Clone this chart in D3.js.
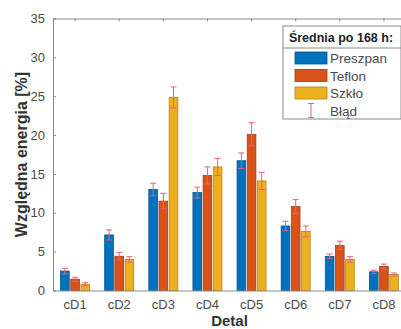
<!DOCTYPE html>
<html>
<head>
<meta charset="utf-8">
<script src="https://cdn.jsdelivr.net/npm/d3@7"></script>
<style>
  body { margin: 0; background: #fff; }
  svg { display: block; font-family: "Liberation Sans", Arial, sans-serif; }
</style>
</head>
<body>
<svg id="chart" width="401" height="329"></svg>
<script>
var categories = ["cD1", "cD2", "cD3", "cD4", "cD5", "cD6", "cD7", "cD8"];
var seriesNames = ["Preszpan", "Teflon", "Szkło"];
var preszpan = [2.5, 7.15, 13.0, 12.6, 16.7, 8.3, 4.4, 2.4];
var teflon = [1.45, 4.4, 11.5, 14.8, 20.1, 10.8, 5.8, 3.1];
var szklo = [0.8, 4.0, 24.85, 15.9, 14.1, 7.6, 4.0, 2.05];
var errPreszpan = [0.35, 0.65, 0.8, 0.7, 1.0, 0.6, 0.3, 0.2];
var errTeflon = [0.25, 0.5, 1.0, 1.1, 1.5, 0.9, 0.55, 0.3];
var errSzklo = [0.2, 0.35, 1.35, 1.1, 1.1, 0.7, 0.35, 0.2];
var yTicks = [0, 5, 10, 15, 20, 25, 30, 35];
var colors = ["#0072BD", "#D95319", "#EDB120"];
var errColor = "#e8607a";

var values = [preszpan, teflon, szklo];
var errors = [errPreszpan, errTeflon, errSzklo];

var svg = d3.select("#chart"),
    margin = { top: 18.5, left: 53 },
    width = 353,
    height = 272;

var x0 = d3.scaleBand().domain(categories).range([0, width]).padding(0);
var groupW = 29;
var x1 = d3.scaleBand().domain(d3.range(3)).range([0, groupW]).paddingInner(0.15);
var y = d3.scaleLinear().domain([0, 35]).range([height, 0]);

var g = svg.append("g")
    .attr("transform", "translate(" + margin.left + "," + margin.top + ")");

var axisColor = "#8a8a8a";
var textColor = "#4a4a4a";

// bars
var rows = [];
categories.forEach(function (c, i) {
    for (var s = 0; s < 3; s++) {
        rows.push({ cat: c, s: s, v: values[s][i], e: errors[s][i] });
    }
});

function bx(d) {
    return x0(d.cat) + (x0.bandwidth() - groupW) / 2 + x1(d.s);
}

g.selectAll(".bar")
    .data(rows)
    .enter().append("rect")
    .attr("class", "bar")
    .attr("x", bx)
    .attr("y", function (d) { return y(d.v); })
    .attr("width", x1.bandwidth())
    .attr("height", function (d) { return height - y(d.v); })
    .attr("fill", function (d) { return colors[d.s]; })
    .attr("stroke", function (d) { return d3.color(colors[d.s]).darker(0.8); })
    .attr("stroke-width", 0.8);

// error bars
var eb = g.selectAll(".err")
    .data(rows)
    .enter().append("g")
    .attr("class", "err")
    .attr("stroke", errColor)
    .attr("stroke-width", 1);

eb.append("line")
    .attr("x1", function (d) { return bx(d) + x1.bandwidth() / 2; })
    .attr("x2", function (d) { return bx(d) + x1.bandwidth() / 2; })
    .attr("y1", function (d) { return y(d.v - d.e); })
    .attr("y2", function (d) { return y(d.v + d.e); });

[1, -1].forEach(function (sign) {
    eb.append("line")
        .attr("x1", function (d) { return bx(d) + x1.bandwidth() / 2 - 3; })
        .attr("x2", function (d) { return bx(d) + x1.bandwidth() / 2 + 3; })
        .attr("y1", function (d) { return y(d.v + sign * d.e); })
        .attr("y2", function (d) { return y(d.v + sign * d.e); });
});

// axes
var yAxis = g.append("g")
    .call(d3.axisLeft(y).tickValues(yTicks).tickSize(-3).tickPadding(8));
var xAxis = g.append("g")
    .attr("transform", "translate(0," + height + ")")
    .call(d3.axisBottom(x0).tickSize(-3).tickPadding(9));
var xTop = g.append("g")
    .call(d3.axisTop(x0).tickSize(-3).tickFormat(""));

[yAxis, xAxis, xTop].forEach(function (a) {
    a.select(".domain").attr("stroke", axisColor);
    a.selectAll(".tick line").attr("stroke", axisColor);
    a.selectAll(".tick text")
        .attr("fill", textColor)
        .style("font-size", "13px");
});
xAxis.selectAll(".tick line").attr("opacity", 0);

// axis titles
svg.append("text")
    .attr("transform", "translate(21," + (margin.top + height / 2) + ") rotate(-90)")
    .attr("dy", "0.35em")
    .attr("text-anchor", "middle")
    .attr("fill", "#333")
    .style("font-size", "16px")
    .style("font-weight", "bold")
    .text("Względna energia [%]");

svg.append("text")
    .attr("x", margin.left + width / 2)
    .attr("y", 326)
    .attr("text-anchor", "middle")
    .attr("fill", "#333")
    .style("font-size", "15px")
    .style("font-weight", "bold")
    .text("Detal");

// legend
var lg = svg.append("g").attr("transform", "translate(283,26)");
lg.append("rect")
    .attr("width", 118).attr("height", 93)
    .attr("fill", "#fff")
    .attr("stroke", axisColor);
lg.append("line")
    .attr("x1", 0).attr("x2", 118)
    .attr("y1", 22).attr("y2", 22)
    .attr("stroke", axisColor);
lg.append("text")
    .attr("x", 58).attr("y", 16)
    .attr("text-anchor", "middle")
    .attr("fill", "#222")
    .style("font-size", "12.5px")
    .style("font-weight", "bold")
    .text("Średnia po 168 h:");

var items = lg.selectAll(".item")
    .data(seriesNames.concat(["Błąd"]))
    .enter().append("g")
    .attr("class", "item")
    .attr("transform", function (d, i) { return "translate(0," + (32 + i * 17.5) + ")"; });

items.filter(function (d, i) { return i < 3; })
    .append("rect")
    .attr("x", 12).attr("y", -6)
    .attr("width", 32).attr("height", 12)
    .attr("fill", function (d, i) { return colors[i]; })
    .attr("stroke", function (d, i) { return d3.color(colors[i]).darker(0.8); })
    .attr("stroke-width", 0.8);

var errIcon = items.filter(function (d, i) { return i === 3; })
    .append("g").attr("stroke", errColor);
errIcon.append("line").attr("x1", 28).attr("x2", 28).attr("y1", -7).attr("y2", 7);
errIcon.append("line").attr("x1", 25).attr("x2", 31).attr("y1", -7).attr("y2", -7);
errIcon.append("line").attr("x1", 25).attr("x2", 31).attr("y1", 7).attr("y2", 7);

items.append("text")
    .attr("x", 47).attr("y", 5)
    .attr("fill", textColor)
    .style("font-size", "13.5px")
    .text(function (d) { return d; });
</script>
</body>
</html>
